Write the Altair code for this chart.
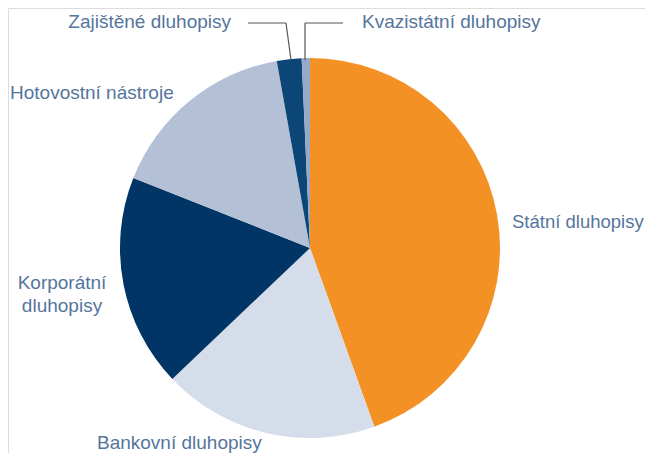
import altair as alt
import pandas as pd

categories = ["Státní dluhopisy", "Bankovní dluhopisy", "Korporátní dluhopisy",
              "Hotovostní nástroje", "Zajištěné dluhopisy", "Kvazistátní dluhopisy"]
shares = [44.5, 18.4, 18.1, 16.2, 2.1, 0.7]
colors = ["#f39124", "#d6ddea", "#003565", "#b3c0d6", "#0b4677", "#95aaca"]

df = pd.DataFrame({"cat": categories, "share": shares, "order": list(range(len(categories)))})

OX, OY = 8, 8  # page margin
CX, CY, R = 310 - OX, 248 - OY, 190
TXT = "#55759c"
FONT = "Liberation Sans"

pie = alt.Chart(df).mark_arc(radius=R, stroke=None).encode(
    theta=alt.Theta("share:Q", stack=True),
    order=alt.Order("order:Q"),
    color=alt.Color("cat:N", scale=alt.Scale(domain=categories, range=colors), legend=None),
    x=alt.value(CX), y=alt.value(CY),
)

def label(text, x, y, align="left", size=19):
    return alt.Chart(df.head(1)).mark_text(
        text=text, align=align, baseline="middle", font=FONT, fontSize=size,
        fontWeight=300, color=TXT
    ).encode(x=alt.value(x - OX), y=alt.value(y - OY))

def rule(x1, y1, x2, y2):
    return alt.Chart(df.head(1)).mark_rule(color="#555555", strokeWidth=1.2).encode(
        x=alt.value(x1 - OX), y=alt.value(y1 - OY),
        x2=alt.value(x2 - OX), y2=alt.value(y2 - OY))

layers = [
    pie,
    label("Státní dluhopisy", 512, 222, size=18.5),
    label("Bankovní dluhopisy", 97, 443),
    label("Korporátní", 62, 283, "center"),
    label("dluhopisy", 62, 306, "center"),
    label("Hotovostní nástroje", 10, 93),
    label("Zajištěné dluhopisy", 231, 22, "right"),
    label("Kvazistátní dluhopisy", 362, 22),
    rule(248, 23, 286, 23),
    rule(286, 23, 291, 60),
    rule(305, 23, 305, 60),
    rule(305, 23, 343, 23),
]

chart = alt.layer(*layers).properties(
    width=637, height=445, autosize="none", padding=0
).configure_view(stroke=None).configure(background="white")

chart.save("out.html", embed_options={"renderer": "svg", "actions": False})
